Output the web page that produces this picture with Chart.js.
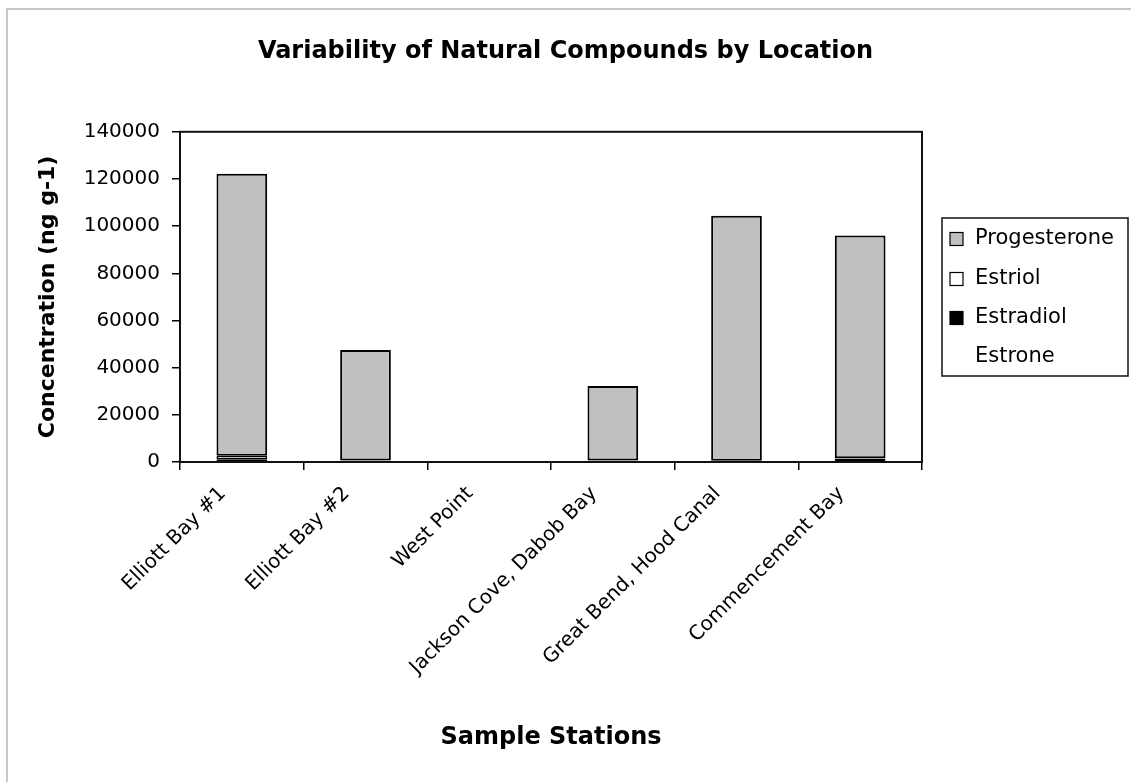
<!DOCTYPE html>
<html><head><meta charset="utf-8">
<script src="https://cdn.jsdelivr.net/npm/chart.js@4.4.0/dist/chart.umd.min.js"></script>
<style>html,body{margin:0;padding:0;background:#fff;} canvas{display:block;}</style>
</head><body>
<canvas id="c" width="1131" height="782"></canvas>
<script>
// ---- data ----
const categories = ['Elliott Bay #1', 'Elliott Bay #2', 'West Point', 'Jackson Cove, Dabob Bay', 'Great Bend, Hood Canal', 'Commencement Bay'];
const estrone      = [100, 0, 0, 0, 0, 100];
const estradiol    = [1100, 500, 0, 500, 400, 1300];
const estriol      = [1400, 100, 0, 100, 100, 200];
const progesterone = [119600, 46900, 0, 31600, 103900, 94400];
const yTickValues  = [0, 20000, 40000, 60000, 80000, 100000, 120000, 140000];
const seriesNames  = ['Estrone', 'Estradiol', 'Estriol', 'Progesterone'];
const legendOrder  = ['Progesterone', 'Estriol', 'Estradiol', 'Estrone'];

const FONT = "'DejaVu Sans', sans-serif";
Chart.defaults.font.family = FONT;
Chart.defaults.color = '#000';

const frame = {
  id: 'frame',
  beforeDraw(chart) {
    const c = chart.ctx;
    c.save();
    c.fillStyle = '#fff';
    c.fillRect(0, 0, chart.width, chart.height);
    c.strokeStyle = '#c8c8c8';
    c.lineWidth = 2;
    c.beginPath();
    c.moveTo(7, chart.height);
    c.lineTo(7, 9);
    c.lineTo(chart.width, 9);
    c.stroke();
    c.restore();
  }
};

const plotBorder = {
  id: 'plotBorder',
  afterDatasetsDraw(chart) {
    const a = chart.chartArea, c = chart.ctx;
    c.save();
    c.strokeStyle = '#111';
    c.lineWidth = 2;
    c.strokeRect(a.left, a.top, a.right - a.left, a.bottom - a.top);
    c.restore();
  }
};

const boxLegend = {
  id: 'boxLegend',
  afterDraw(chart) {
    const a = chart.chartArea, c = chart.ctx;
    const left = a.right + 20, top = 218, w = 186, h = 158;
    c.save();
    c.strokeStyle = '#111';
    c.lineWidth = 1.5;
    c.strokeRect(left, top, w, h);
    c.font = '21px ' + FONT;
    c.textBaseline = 'middle';
    c.textAlign = 'left';
    const rows = [239, 279, 318, 357];
    legendOrder.forEach((name, i) => {
      const ds = chart.data.datasets.find(d => d.label === name);
      const y = rows[i];
      c.fillStyle = ds.backgroundColor;
      c.fillRect(left + 8, y - 6.5, 13, 13);
      if (ds.borderWidth > 0) {
        c.strokeStyle = '#000';
        c.lineWidth = 1.2;
        c.strokeRect(left + 8, y - 6.5, 13, 13);
      }
      c.fillStyle = '#000';
      c.fillText(name, left + 33, y);
    });
    c.restore();
  }
};

const seriesData = {Estrone: estrone, Estradiol: estradiol, Estriol: estriol, Progesterone: progesterone};
const seriesFill = {Estrone: '#ffffff', Estradiol: '#000000', Estriol: '#ffffff', Progesterone: '#c0c0c0'};
const seriesBorder = {Estrone: 0, Estradiol: 1.5, Estriol: 1.5, Progesterone: 2};

new Chart(document.getElementById('c'), {
  type: 'bar',
  data: {
    labels: categories,
    datasets: seriesNames.map(n => ({
      label: n,
      data: seriesData[n],
      backgroundColor: seriesFill[n],
      borderColor: '#000',
      borderWidth: seriesBorder[n],
      borderSkipped: false,
      categoryPercentage: 1,
      barPercentage: 0.41
    }))
  },
  options: {
    responsive: false,
    animation: false,
    devicePixelRatio: 1,
    layout: { padding: 0 },
    plugins: {
      legend: { display: false },
      tooltip: { enabled: false },
      title: {
        display: true,
        text: 'Variability of Natural Compounds by Location',
        font: { size: 24, weight: 'bold', family: FONT },
        color: '#000',
        padding: { top: 37, bottom: 66 }
      }
    },
    scales: {
      x: {
        stacked: true,
        afterFit(s) { s.height = 320; },
        grid: { offset: true, drawOnChartArea: false, drawTicks: true, tickLength: 8, color: '#000', lineWidth: 1.5 },
        border: { display: true, color: '#000', width: 2 },
        ticks: { maxRotation: 45, minRotation: 45, autoSkip: false, padding: 12, labelOffset: -19, font: { size: 20 }, color: '#000' },
        title: { display: true, text: 'Sample Stations', font: { size: 24, weight: 'bold' }, color: '#000', padding: { top: 0, bottom: 30 } }
      },
      y: {
        stacked: true,
        min: 0,
        max: 140000,
        afterFit(s) { s.width = 180; },
        afterBuildTicks(s) { s.ticks = yTickValues.map(v => ({ value: v })); },
        grid: { drawOnChartArea: false, drawTicks: true, tickLength: 8, color: '#000', lineWidth: 1.5 },
        border: { display: true, color: '#000', width: 2 },
        ticks: { padding: 12, font: { size: 20 }, color: '#000', callback: v => String(v) },
        title: { display: true, text: 'Concentration (ng g-1)', font: { size: 22, weight: 'bold' }, color: '#000', padding: { top: 35, bottom: 0 } }
      },
      legendSpace: {
        type: 'linear',
        position: 'right',
        min: 0,
        max: 1,
        afterFit(s) { s.width = 209; },
        grid: { display: false },
        border: { display: false },
        ticks: { display: false }
      }
    }
  },
  plugins: [frame, plotBorder, boxLegend]
});
</script>
</body></html>
